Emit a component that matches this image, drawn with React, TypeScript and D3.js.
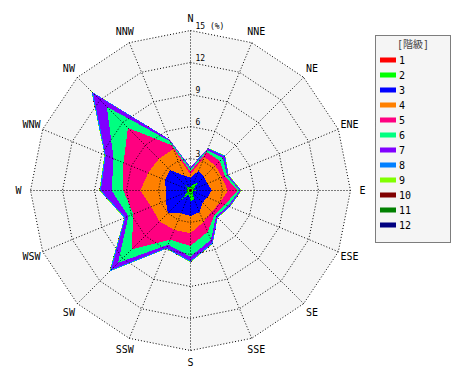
import React from 'react';
import * as d3 from 'd3';

const directions = ['N', 'NNE', 'NE', 'ENE', 'E', 'ESE', 'SE', 'SSE', 'S', 'SSW', 'SW', 'WSW', 'W', 'WNW', 'NW', 'NNW'];
const classNames = ['1', '2', '3', '4', '5', '6', '7', '8', '9', '10', '11', '12'];
const classColors = ['#ff0000', '#00ff00', '#0000ff', '#ff8000', '#ff0080', '#00ff80', '#8000ff', '#0080ff', '#80ff00', '#800000', '#008000', '#000080'];
const ringTicks = [3, 6, 9, 12, 15];
const legendTitle = '[階級]';
const unitLabel = '(%)';

// frequency (%) of each class per direction, order as `directions`
const class1 = [0.1, 0.15, 0.15, 0.1, 0.1, 0.05, 0.05, 0.1, 0.1, 0.1, 0.15, 0.1, 0.1, 0.1, 0.15, 0.1];
const class2 = [0.2, 0.45, 0.85, 0.2, 0.4, 0.2, 0.25, 0.8, 0.9, 0.3, 1.05, 0.2, 0.3, 0.2, 0.55, 0.2];
const class3 = [0.9, 1.4, 0.8, 1.4, 1.5, 1.45, 1.3, 1.3, 1.4, 1.9, 1.8, 2.2, 1.9, 2.3, 2.0, 1.2];
const class4 = [0.3, 1.4, 1.5, 1.5, 1.5, 1.3, 1.2, 1.0, 1.6, 1.7, 1.1, 1.5, 2.4, 1.7, 1.5, 2.7];
const class5 = [0.3, 0.5, 0.6, 0.3, 0.9, 0.5, 0.4, 1.0, 1.2, 1.0, 3.7, 1.8, 1.6, 2.5, 4.1, 0.4];
const class6 = [0.2, 0.2, 0.4, 0.2, 0.2, 0.3, 0.2, 0.8, 1.0, 0.5, 1.8, 0.5, 1.1, 1.0, 2.8, 0.4];
const class7 = [0.15, 0.15, 0.2, 0.1, 0.1, 0.15, 0.15, 0.3, 0.4, 0.3, 0.9, 0.3, 1.0, 0.8, 1.8, 0.15];
const class8 = [0.05, 0.05, 0.1, 0.05, 0.05, 0.05, 0.05, 0.1, 0.1, 0.1, 0.2, 0.1, 0.1, 0.1, 0.2, 0.05];
const class9 = [0, 0.02, 0.02, 0.02, 0.05, 0.02, 0.02, 0.03, 0.03, 0.02, 0.05, 0.03, 0.05, 0.03, 0.03, 0];
const class10 = [0, 0, 0, 0, 0.01, 0, 0, 0.01, 0.01, 0, 0.01, 0, 0.01, 0, 0.01, 0];
const class11 = [0, 0, 0, 0, 0, 0, 0, 0, 0, 0, 0.01, 0, 0, 0, 0, 0];
const class12 = [0, 0, 0, 0, 0, 0, 0, 0, 0, 0, 0, 0, 0, 0, 0, 0];
const classValues = [class1, class2, class3, class4, class5, class6, class7, class8, class9, class10, class11, class12];

const W = 470;
const H = 380;
const cx = 190.5;
const cy = 190.5;
const R = 160;
const LABEL_R = 172;
const MONO = "'DejaVu Sans Mono', 'Noto Sans CJK JP', monospace";

export default function App() {
  const r = d3.scaleLinear().domain([0, 15]).range([0, R]);
  const ang = d3.scaleLinear().domain([0, directions.length]).range([0, 2 * Math.PI]);
  const radial = d3
    .lineRadial<number>()
    .angle((_d, i) => ang(i))
    .radius((d) => r(d))
    .curve(d3.curveLinearClosed);

  // cumulative sums per class
  const cumulative: number[][] = [];
  classValues.forEach((vals, k) => {
    cumulative.push(vals.map((v, i) => v + (k > 0 ? cumulative[k - 1][i] : 0)));
  });

  const ring = (t: number) => radial(directions.map(() => t)) as string;
  const pt = (i: number, rad: number) => [rad * Math.sin(ang(i)), -rad * Math.cos(ang(i))];

  const legendX = 375;
  const legendY = 35;
  const rowY = (k: number) => 60 + 15 * k;

  return (
    <svg width={W} height={H} style={{ position: 'absolute', left: 0, top: 0, background: '#fff' }}>
      <g transform={`translate(${cx},${cy})`}>
        <path d={ring(15)} fill="#f5f5f5" stroke="none" />
        {cumulative
          .map((vals, k) => (
            <path key={k} d={radial(vals) as string} fill={classColors[k]} stroke="none" shapeRendering="crispEdges" />
          ))
          .reverse()}
        {ringTicks.map((t) => (
          <path key={t} d={ring(t)} fill="none" stroke="#000" strokeWidth={1} strokeDasharray="1 2" />
        ))}
        {directions.map((d, i) => {
          const [x, y] = pt(i, r(15));
          return <line key={d} x1={0} y1={0} x2={x} y2={y} stroke="#000" strokeWidth={1} strokeDasharray="1 2" />;
        })}
        {ringTicks.map((t) => (
          <text key={t} x={5} y={-r(t) - 2} fontFamily={MONO} fontSize={8} fill="#000">
            {t === 15 ? `${t} ${unitLabel}` : String(t)}
          </text>
        ))}
        {directions.map((d, i) => {
          const [x, y] = pt(i, LABEL_R);
          return (
            <text key={d} x={x} y={y} textAnchor="middle" dominantBaseline="central" fontFamily={MONO} fontSize={10} fill="#000">
              {d}
            </text>
          );
        })}
      </g>
      <g>
        <rect x={legendX + 0.5} y={legendY + 0.5} width={75} height={207} fill="#f5f5f5" stroke="#000" strokeDasharray="1 1" />
        <text x={413} y={48} textAnchor="middle" fontFamily={MONO} fontSize={10} fill="#444">
          {legendTitle}
        </text>
        {classNames.map((c, k) => (
          <g key={c}>
            <rect x={380} y={rowY(k) - 2.5} width={16} height={5} fill={classColors[k]} />
            <text x={399} y={rowY(k)} dominantBaseline="central" fontFamily={MONO} fontSize={10} fill="#000">
              {c}
            </text>
          </g>
        ))}
      </g>
    </svg>
  );
}
